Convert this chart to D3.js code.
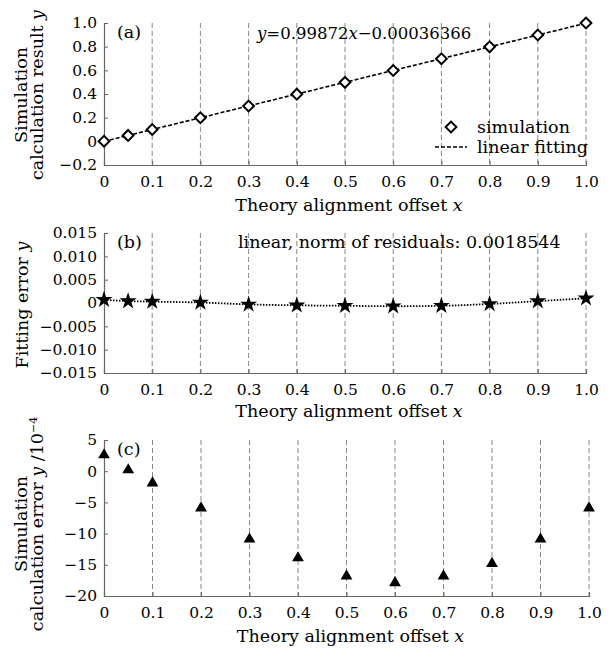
<!DOCTYPE html>
<html>
<head>
<meta charset="utf-8">
<script src="https://cdn.jsdelivr.net/npm/d3@7"></script>
<style>
body { margin: 0; background: #fff; }
text { font-family: "DejaVu Serif", serif; fill: #000; }
</style>
</head>
<body>
<script>
var width = 614,
  height = 648;

// offsets (x) shared by all panels
var offsets = [0, 0.05, 0.1, 0.2, 0.3, 0.4, 0.5, 0.6, 0.7, 0.8, 0.9, 1.0];
var xTicks = [0, 0.1, 0.2, 0.3, 0.4, 0.5, 0.6, 0.7, 0.8, 0.9, 1.0];
var gridX = [0.1, 0.2, 0.3, 0.4, 0.5, 0.6, 0.7, 0.8, 0.9, 1.0];

// (a) simulation result + linear fit
var simResult = [0.0003, 0.05, 0.0998, 0.1994, 0.2989, 0.3986, 0.4983, 0.5982, 0.6983, 0.7985, 0.8989, 0.9994];
var fitX = [0, 1];
var fitY = [-0.00036, 0.99836];
var aTicks = [-0.2, 0, 0.2, 0.4, 0.6, 0.8, 1.0];

// (b) fitting error
var fitError = [0.0007, 0.0004, 0.0003, 0.0001, -0.0003, -0.0005, -0.0006, -0.0007, -0.0006, -0.0002, 0.0004, 0.0010];
var bTicks = [-0.015, -0.010, -0.005, 0, 0.005, 0.010, 0.015];

// (c) simulation calculation error (x 1e-4)
var simError = [2.6, 0.2, -1.9, -5.9, -10.9, -13.9, -16.8, -17.9, -16.8, -14.8, -10.9, -5.9];
var cTicks = [-20, -15, -10, -5, 0, 5];

var svg = d3
  .select("body")
  .append("svg")
  .attr("width", width)
  .attr("height", height);

var axisCol = "#666";
var fs = "17.5px";   // labels
var tfs = "15.5px";  // tick labels

function fmtDigits(n) {
  return function (v) {
    if (v === 0) return "0";
    return d3.format("." + n + "f")(v).replace("-", "\u2212");
  };
}

function panel(o) {
  var x = d3.scaleLinear().domain([0, 1]).range([104, o.right]);
  var y = d3.scaleLinear().domain(o.yDomain).range([o.bottom, o.top]);
  var g = svg.append("g");

  // dashed grid
  g.selectAll(".grid")
    .data(gridX)
    .enter()
    .append("line")
    .attr("x1", d => x(d))
    .attr("x2", d => x(d))
    .attr("y1", o.top)
    .attr("y2", o.bottom)
    .attr("stroke", "#888")
    .attr("stroke-width", 1)
    .attr("stroke-dasharray", "5,3");

  var yAxis = d3.axisLeft(y).tickValues(o.yTicks).tickSize(-4).tickPadding(7).tickFormat(o.yFmt);
  var gy = g.append("g").attr("transform", "translate(104,0)").call(yAxis);
  var xAxis = d3.axisBottom(x).tickValues(xTicks).tickSize(-4).tickPadding(11).tickFormat(fmtDigits(1));
  var gx = g.append("g").attr("transform", "translate(0," + o.bottom + ")").call(xAxis);
  [gx, gy].forEach(function (a) {
    a.select(".domain").attr("stroke", axisCol).attr("stroke-width", 1.2);
    a.selectAll(".tick line").attr("stroke", axisCol);
    a.selectAll("text").style("font-size", tfs).style("font-family", "DejaVu Serif, serif").attr("fill", "#000");
  });

  // x axis title
  var xt = g.append("text")
    .attr("x", (104 + o.right) / 2 + 4)
    .attr("y", o.bottom + o.titleOff)
    .attr("text-anchor", "middle")
    .style("font-size", fs);
  xt.append("tspan").text("Theory alignment offset ");
  xt.append("tspan").style("font-style", "italic").text("x");

  // panel tag
  g.append("text")
    .attr("x", 117)
    .attr("y", o.top + 15)
    .style("font-size", fs)
    .text(o.tag);

  return { x: x, y: y, g: g };
}

// ---------- (a)
var pa = panel({ right: 586, top: 23, bottom: 165, yDomain: [-0.2, 1.0], yTicks: aTicks, tag: "(a)",
  yFmt: fmtDigits(1), titleOff: 46 });

pa.g.append("path")
  .datum(fitX.map((d, i) => [d, fitY[i]]))
  .attr("d", d3.line().x(d => pa.x(d[0])).y(d => pa.y(d[1])))
  .attr("fill", "none")
  .attr("stroke", "#000")
  .attr("stroke-width", 1.6)
  .attr("stroke-dasharray", "4,2");

var diamond = d3.symbol().type(d3.symbolSquare).size(58);
pa.g.selectAll(".sim")
  .data(offsets)
  .enter()
  .append("path")
  .attr("d", diamond)
  .attr("transform", (d, i) => "translate(" + pa.x(d) + "," + pa.y(simResult[i]) + ") rotate(45)")
  .attr("fill", "#fff")
  .attr("stroke", "#000")
  .attr("stroke-width", 2);

var eq = pa.g.append("text").attr("x", 257).attr("y", 39).style("font-size", "16.5px");
eq.append("tspan").style("font-style", "italic").text("y");
eq.append("tspan").text("=0.99872");
eq.append("tspan").style("font-style", "italic").text("x");
eq.append("tspan").text("\u22120.00036366");

// legend
pa.g.append("path")
  .attr("d", diamond)
  .attr("transform", "translate(451,127) rotate(45)")
  .attr("fill", "#fff")
  .attr("stroke", "#000")
  .attr("stroke-width", 2);
pa.g.append("text").attr("x", 477).attr("y", 133).style("font-size", fs).text("simulation");
pa.g.append("line")
  .attr("x1", 435).attr("x2", 467).attr("y1", 147).attr("y2", 147)
  .attr("stroke", "#000").attr("stroke-width", 1.6).attr("stroke-dasharray", "4,2");
pa.g.append("text").attr("x", 477).attr("y", 153).style("font-size", fs).text("linear fitting");

// y label
var la = pa.g.append("text").attr("transform", "translate(27,95) rotate(-90)").attr("text-anchor", "middle").style("font-size", fs);
la.append("tspan").attr("x", 0).attr("dy", 0).text("Simulation");
la.append("tspan").attr("x", 0).attr("dy", 15.5).text("calculation result ");
la.append("tspan").style("font-style", "italic").text("y");

// ---------- (b)
var pb = panel({ right: 586, top: 233, bottom: 373, yDomain: [-0.015, 0.015], yTicks: bTicks, tag: "(b)",
  yFmt: fmtDigits(3), titleOff: 44 });

pb.g.append("path")
  .datum(offsets.map((d, i) => [d, fitError[i]]))
  .attr("d", d3.line().curve(d3.curveMonotoneX).x(d => pb.x(d[0])).y(d => pb.y(d[1])))
  .attr("fill", "none")
  .attr("stroke", "#000")
  .attr("stroke-width", 1.8)
  .attr("stroke-dasharray", "1.5,1.5");

pb.g.selectAll(".star")
  .data(offsets)
  .enter()
  .append("path")
  .attr("d", d3.symbol().type(d3.symbolStar).size(90))
  .attr("transform", (d, i) => "translate(" + pb.x(d) + "," + pb.y(fitError[i]) + ")")
  .attr("fill", "#000");

pb.g.append("text").attr("x", 238).attr("y", 248).style("font-size", fs).text("linear, norm of residuals: 0.0018544");

var lb = pb.g.append("text").attr("transform", "translate(28,305) rotate(-90)").attr("text-anchor", "middle").style("font-size", fs);
lb.append("tspan").text("Fitting error ");
lb.append("tspan").style("font-style", "italic").text("y");

// ---------- (c)
var pc = panel({ right: 589, top: 440, bottom: 596, yDomain: [-20, 5], yTicks: cTicks, tag: "(c)",
  yFmt: fmtDigits(0), titleOff: 46 });

pc.g.selectAll(".tri")
  .data(offsets)
  .enter()
  .append("path")
  .attr("d", d3.symbol().type(d3.symbolTriangle).size(60))
  .attr("transform", (d, i) => "translate(" + pc.x(d) + "," + pc.y(simError[i]) + ")")
  .attr("fill", "#000");

var lc = pc.g.append("text").attr("transform", "translate(27,524) rotate(-90)").attr("text-anchor", "middle").style("font-size", fs);
lc.append("tspan").attr("x", 0).text("Simulation");
lc.append("tspan").attr("x", 0).attr("dy", 15.5).text("calculation error ");
lc.append("tspan").style("font-style", "italic").text("y");
lc.append("tspan").text(" /10");
lc.append("tspan").attr("dy", -6).style("font-size", "11px").text("\u22124");
</script>
</body>
</html>
